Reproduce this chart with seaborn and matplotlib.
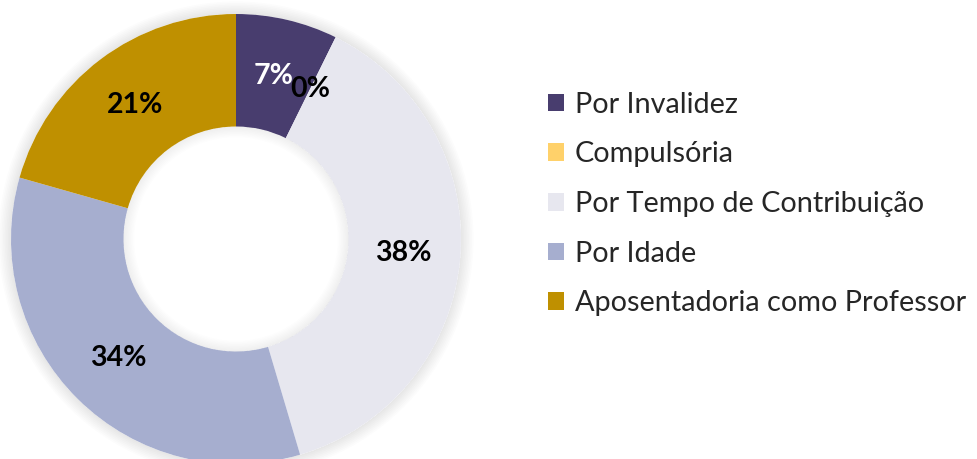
import matplotlib
matplotlib.use("Agg")
import matplotlib.pyplot as plt
from matplotlib.patches import Patch, Wedge
import seaborn as sns

# data
categories = ["Por Invalidez", "Compulsória", "Por Tempo de Contribuição",
              "Por Idade", "Aposentadoria como Professor"]
shares = [7.3, 0.0, 38.1, 34.0, 20.6]
colors = ["#483d6e", "#ffd16a", "#e7e7ef", "#a6aecf", "#bf9000"]
label_colors = ["white", "black", "black", "black", "black"]

sns.set_theme(style="white")
plt.rcParams["font.family"] = ["Lato", "DejaVu Sans"]

fig = plt.figure(figsize=(9.78, 4.59), dpi=100)
ax = fig.add_axes([11 / 978, -5 / 459, 450 / 978, 450 / 459])

# soft shadow just outside the ring and just inside the hole
for i in range(1, 9):
    ax.add_patch(Wedge((0, 0), 1.0 + 0.007 * i, 0, 360, width=0.007 * i,
                       color="black", alpha=0.01, lw=0, zorder=0, clip_on=False))
    ax.add_patch(Wedge((0, 0), 0.5, 0, 360, width=0.006 * i,
                       color="black", alpha=0.008, lw=0, zorder=3, clip_on=False))

wedges, texts, autotexts = ax.pie(
    shares, colors=colors, startangle=90, counterclock=False,
    autopct="%.0f%%", pctdistance=0.745,
    wedgeprops=dict(width=0.5, linewidth=0),
    textprops=dict(fontsize=20.5, fontweight="bold"),
)
for w in wedges:
    w.set_clip_on(False)
for t, c in zip(autotexts, label_colors):
    t.set_color(c)
    t.set_zorder(5)

ax.set_xlim(-1, 1)
ax.set_ylim(-1, 1)
ax.axis("off")

handles = [Patch(facecolor=c, edgecolor="none") for c in colors]
fig.legend(handles, categories, loc="center left", bbox_to_anchor=(548 / 978, 1 - 204 / 459),
           frameon=False, fontsize=20.8, handlelength=0.57, handleheight=0.57,
           handletextpad=0.35, labelspacing=0.82, borderaxespad=0, borderpad=0)

fig.savefig("out.png", dpi=100, facecolor="white")
